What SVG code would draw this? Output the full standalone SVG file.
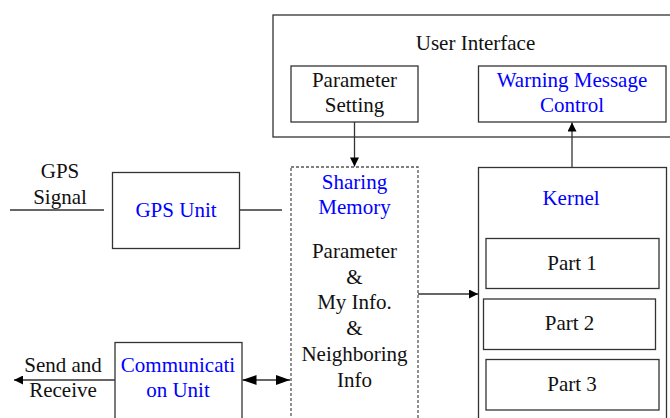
<svg xmlns="http://www.w3.org/2000/svg" width="670" height="418" viewBox="0 0 670 418" font-family="Liberation Serif, Times New Roman, serif" font-size="21">
<style>
text{text-anchor:middle;fill:#111}
.b{fill:#0000ff}
.box{fill:#fff;stroke:#333;stroke-width:1.3}
.dash{fill:#fff;stroke:#555;stroke-width:1.3;stroke-dasharray:3 2}
.ln{fill:none;stroke:#333;stroke-width:1.3}
</style>
<defs>
<marker id="ah" viewBox="0 0 10 10" refX="10" refY="5" markerWidth="10" markerHeight="9" markerUnits="userSpaceOnUse" orient="auto-start-reverse"><path d="M0,0L10,5L0,10z" fill="#000"/></marker>
<marker id="ah2" viewBox="0 0 14 10" refX="14" refY="5" markerWidth="14" markerHeight="10" markerUnits="userSpaceOnUse" orient="auto-start-reverse"><path d="M0,0L14,5L0,10z" fill="#000"/></marker>
</defs>
<g id="user-interface">
<rect class="box" x="273" y="15" width="410" height="122"/>
<text x="475.5" y="50">User Interface</text>
</g>
<g id="parameter-setting">
<rect class="box" x="291" y="66" width="127" height="56"/>
<text x="354.5" y="87">Parameter</text>
<text x="354.5" y="112">Setting</text>
</g>
<g id="warning-message-control">
<rect class="box" x="478.5" y="66" width="187.5" height="56"/>
<text class="b" x="572" y="87">Warning Message</text>
<text class="b" x="572" y="112">Control</text>
</g>
<g id="gps-unit">
<rect class="box" x="112.5" y="172.5" width="127" height="76"/>
<text class="b" x="176" y="217">GPS Unit</text>
</g>
<g id="gps-signal">
<text x="60" y="178">GPS</text>
<text x="60" y="204">Signal</text>
</g>
<g id="sharing-memory">
<rect class="dash" x="291" y="167" width="127" height="260"/>
<text class="b" x="354.5" y="189">Sharing</text>
<text class="b" x="354.5" y="214">Memory</text>
<text x="354.5" y="258">Parameter</text>
<text x="354.5" y="284">&amp;</text>
<text x="354.5" y="309">My Info.</text>
<text x="354.5" y="335">&amp;</text>
<text x="354.5" y="361">Neighboring</text>
<text x="354.5" y="387">Info</text>
</g>
<g id="kernel">
<rect class="box" x="478.5" y="167.5" width="188" height="260"/>
<text class="b" x="571" y="205">Kernel</text>
</g>
<g id="part1">
<rect class="box" x="486" y="238.5" width="173" height="50"/>
<text x="572" y="270">Part 1</text>
</g>
<g id="part2">
<rect class="box" x="483.5" y="299" width="172" height="50.5"/>
<text x="569.5" y="330">Part 2</text>
</g>
<g id="part3">
<rect class="box" x="486" y="359.5" width="173" height="50.5"/>
<text x="572" y="391">Part 3</text>
</g>
<g id="communication-unit">
<rect class="box" x="115" y="342.5" width="127" height="90"/>
<text class="b" x="178" y="372">Communicati</text>
<text class="b" x="178" y="397">on Unit</text>
</g>
<g id="send-receive">
<text x="63" y="372">Send and</text>
<text x="63" y="397">Receive</text>
</g>
<g id="connectors">
<line class="ln" x1="10" y1="210" x2="104" y2="210"/>
<line class="ln" x1="240" y1="210" x2="282" y2="210"/>
<line class="ln" x1="354.5" y1="122" x2="354.5" y2="166.5" marker-end="url(#ah)"/>
<line class="ln" x1="572" y1="167" x2="572" y2="122.5" marker-end="url(#ah)"/>
<line class="ln" x1="418" y1="294" x2="478" y2="294" marker-end="url(#ah)"/>
<line class="ln" x1="115" y1="380" x2="14" y2="380" marker-end="url(#ah)"/>
<line class="ln" x1="242.5" y1="380" x2="290" y2="380" marker-start="url(#ah2)" marker-end="url(#ah2)"/>
</g>
</svg>
